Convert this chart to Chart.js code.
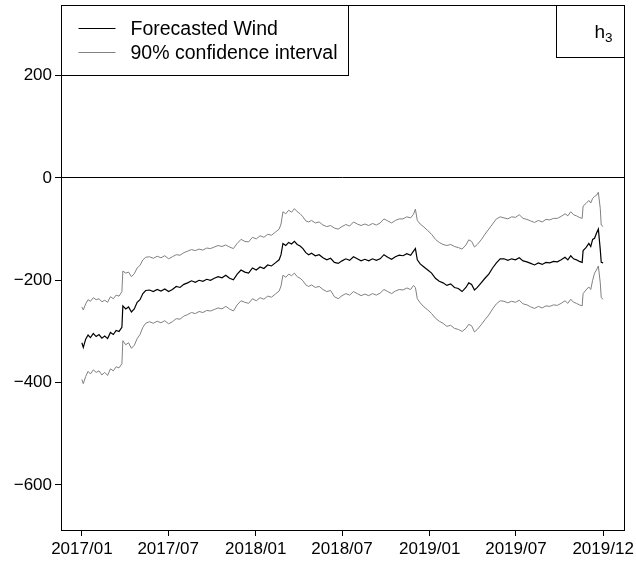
<!DOCTYPE html>
<html>
<head>
<meta charset="utf-8">
<script src="https://cdn.jsdelivr.net/npm/chart.js@4.4.0/dist/chart.umd.min.js"></script>
<style>
  html, body { margin: 0; padding: 0; background: #fff; }
</style>
</head>
<body>
<canvas id="windChart" width="636" height="562"></canvas>
<script>
// days since 2017-01-01
var days = [0, 3, 8, 13, 18, 24, 30, 36, 42, 48, 54, 60, 66, 72, 78, 84, 86, 92, 98, 104,
  110, 116, 122, 128, 134, 142, 150, 158, 166, 174, 182, 190, 198, 206, 214, 222, 230, 238, 246, 254,
  262, 270, 278, 286, 294, 302, 310, 318, 326, 334, 342, 350, 358, 366, 374, 382, 390, 398, 406, 414,
  418, 422, 428, 434, 440, 446, 452, 458, 464, 470, 476, 482, 490, 498, 506, 514, 522, 530, 538, 546,
  554, 562, 570, 578, 586, 594, 602, 610, 618, 626, 634, 642, 650, 658, 666, 674, 682, 690, 696, 700,
  704, 710, 718, 726, 734, 742, 750, 758, 766, 774, 782, 790, 798, 806, 812, 818, 824, 830, 838, 846,
  854, 862, 870, 878, 886, 894, 902, 910, 918, 926, 934, 942, 950, 958, 966, 974, 982, 990, 998, 1006,
  1014, 1020, 1026, 1032, 1038, 1044, 1050, 1052, 1058, 1064, 1068, 1072, 1076, 1080, 1084, 1088, 1090, 1094];

var forecast = [-322, -331, -315, -307, -312, -304, -310, -306, -313, -309, -314, -302, -306, -298, -300, -292, -250, -256, -252, -262,
  -256, -243, -238, -226, -220, -219, -222, -218, -221, -217, -222, -218, -212, -214, -208, -205, -201, -204, -200, -202,
  -198, -200, -196, -193, -195, -190, -196, -199, -188, -180, -184, -186, -176, -180, -174, -177, -170, -172, -166, -160,
  -150, -128, -132, -126, -129, -124, -130, -133, -138, -146, -150, -147, -152, -150, -156, -160, -157, -165, -167, -162,
  -158, -161, -154, -158, -162, -159, -162, -158, -161, -158, -150, -155, -159, -154, -151, -152, -148, -151, -143, -138,
  -160, -168, -174, -180, -186, -196, -202, -205, -210, -207, -214, -216, -222, -214, -205, -208, -219, -214, -205, -196,
  -188, -176, -166, -158, -158, -161, -158, -160, -156, -162, -164, -167, -170, -166, -169, -165, -166, -163, -164, -160,
  -155, -160, -152, -158, -160, -163, -165, -142, -136, -128, -134, -120, -118, -108, -100, -140, -165, -166];

var upper = [-252, -258, -246, -238, -241, -234, -238, -236, -242, -239, -243, -232, -236, -229, -231, -222, -182, -186, -184, -193,
  -187, -176, -171, -160, -155, -154, -157, -153, -156, -152, -158, -154, -150, -151, -146, -143, -140, -142, -139, -141,
  -137, -138, -135, -132, -134, -131, -135, -138, -128, -120, -124, -125, -116, -119, -113, -116, -110, -112, -106, -100,
  -90, -66, -70, -63, -67, -60, -66, -70, -76, -84, -86, -83, -88, -86, -92, -95, -93, -98, -100, -95,
  -91, -94, -86, -90, -93, -90, -93, -89, -92, -88, -80, -84, -88, -83, -80, -80, -76, -78, -71, -61,
  -83, -90, -96, -103, -110, -120, -126, -130, -132, -130, -134, -136, -139, -131, -121, -124, -135, -130, -121, -110,
  -100, -90, -80, -76, -78, -80, -76, -77, -72, -79, -81, -84, -87, -83, -86, -81, -82, -79, -79, -75,
  -70, -74, -66, -72, -74, -77, -79, -55, -50, -44, -49, -40, -36, -34, -28, -60, -92, -95];

var lower = [-394, -402, -388, -378, -383, -375, -380, -377, -385, -380, -386, -373, -377, -369, -371, -363, -318, -326, -322, -333,
  -327, -314, -306, -292, -284, -281, -284, -280, -283, -279, -285, -281, -275, -276, -270, -267, -263, -265, -261, -263,
  -259, -260, -257, -254, -256, -251, -256, -260, -248, -240, -243, -245, -236, -240, -234, -237, -231, -233, -227, -221,
  -211, -190, -194, -188, -191, -186, -193, -196, -201, -209, -212, -209, -214, -212, -218, -222, -220, -232, -236, -230,
  -226, -229, -222, -226, -230, -227, -230, -226, -229, -225, -218, -222, -226, -221, -218, -219, -215, -218, -210, -214,
  -236, -244, -252, -258, -265, -274, -280, -284, -290, -288, -294, -296, -300, -294, -286, -289, -301, -296, -287, -277,
  -268, -256, -246, -240, -241, -244, -241, -243, -239, -246, -248, -252, -255, -251, -254, -250, -251, -248, -249, -245,
  -240, -245, -237, -243, -245, -248, -250, -226, -219, -213, -218, -200, -186, -180, -172, -205, -234, -237];

var tickDays = [0, 181, 365, 546, 730, 911, 1094];
var tickLabels = ['2017/01', '2017/07', '2018/01', '2018/07', '2019/01', '2019/07', '2019/12'];
var yTicks = [-600, -400, -200, 0, 200];

var legendNames = ['Forecasted Wind', '90% confidence interval'];
var lineColors = ['#000000', '#808080'];

function toPoints(vals) {
  return vals.map(function (v, i) { return { x: days[i], y: v }; });
}

var FONT = '"Liberation Sans", Arial, Helvetica, sans-serif';
Chart.defaults.font.family = FONT;
Chart.defaults.font.size = 17;
Chart.defaults.color = '#000';

// plot box, legend box and the panel tag
var framePlugin = {
  id: 'frame',
  afterDraw: function (chart) {
    var c = chart.ctx, a = chart.chartArea;
    var l = Math.round(a.left) + 0.5, t = Math.round(a.top) + 0.5;
    var r = Math.round(a.right) + 0.5, b = Math.round(a.bottom) + 0.5;
    c.save();
    c.strokeStyle = '#000';
    c.lineWidth = 1;
    c.strokeRect(l, t, r - l, b - t);

    // legend
    c.fillStyle = '#fff';
    c.fillRect(l, t, 287, 70);
    c.strokeRect(l, t, 287, 70);
    c.font = '19.5px ' + FONT;
    c.textBaseline = 'middle';
    c.textAlign = 'left';
    for (var i = 0; i < legendNames.length; i++) {
      var yy = t + 23 + i * 24;
      c.strokeStyle = lineColors[i];
      c.beginPath();
      c.moveTo(l + 17, yy);
      c.lineTo(l + 54, yy);
      c.stroke();
      c.fillStyle = '#000';
      c.fillText(legendNames[i], l + 69, yy + 1);
    }

    // tag box
    c.strokeStyle = '#000';
    c.strokeRect(r - 68, t, 68, 52);
    c.fillStyle = '#000';
    c.textBaseline = 'alphabetic';
    c.font = '19px ' + FONT;
    c.fillText('h', r - 30, t + 32);
    c.font = '13.5px ' + FONT;
    c.fillText('3', r - 19.5, t + 36);
    c.restore();
  }
};

new Chart(document.getElementById('windChart'), {
  type: 'line',
  data: {
    datasets: [{
      label: legendNames[1] + ' (upper)',
      data: toPoints(upper),
      borderColor: lineColors[1],
      borderWidth: 1
    }, {
      label: legendNames[1] + ' (lower)',
      data: toPoints(lower),
      borderColor: lineColors[1],
      borderWidth: 1
    }, {
      label: legendNames[0],
      data: toPoints(forecast),
      borderColor: lineColors[0],
      borderWidth: 1.2
    }]
  },
  options: {
    responsive: false,
    animation: false,
    events: [],
    elements: { point: { radius: 0 }, line: { tension: 0 } },
    layout: { padding: { top: 5, right: 12, left: 0, bottom: 0 } },
    plugins: { legend: { display: false }, tooltip: { enabled: false } },
    scales: {
      x: {
        type: 'linear',
        min: -43.8,
        max: 1137.8,
        border: { display: false },
        grid: { drawOnChartArea: false, tickLength: 6, tickColor: '#000' },
        ticks: {
          autoSkip: false, maxRotation: 0, padding: 3,
          callback: function (v) {
            var i = tickDays.indexOf(v);
            return i >= 0 ? tickLabels[i] : '';
          }
        },
        afterBuildTicks: function (s) { s.ticks = tickDays.map(function (v) { return { value: v }; }); },
        afterFit: function (s) { s.height = 32; s.paddingLeft = 0; s.paddingRight = 0; }
      },
      y: {
        min: -688,
        max: 338,
        border: { display: false },
        grid: {
          tickLength: 6,
          tickColor: '#000',
          color: function (ctx) { return ctx.tick && ctx.tick.value === 0 ? '#000' : 'rgba(0,0,0,0)'; }
        },
        ticks: {
          padding: 3,
          callback: function (v) { return v < 0 ? '\u2212' + Math.abs(v) : String(v); }
        },
        afterBuildTicks: function (s) { s.ticks = yTicks.map(function (v) { return { value: v }; }); },
        afterFit: function (s) { s.width = 61; s.paddingTop = 0; s.paddingBottom = 0; }
      }
    }
  },
  plugins: [framePlugin]
});
</script>
</body>
</html>
